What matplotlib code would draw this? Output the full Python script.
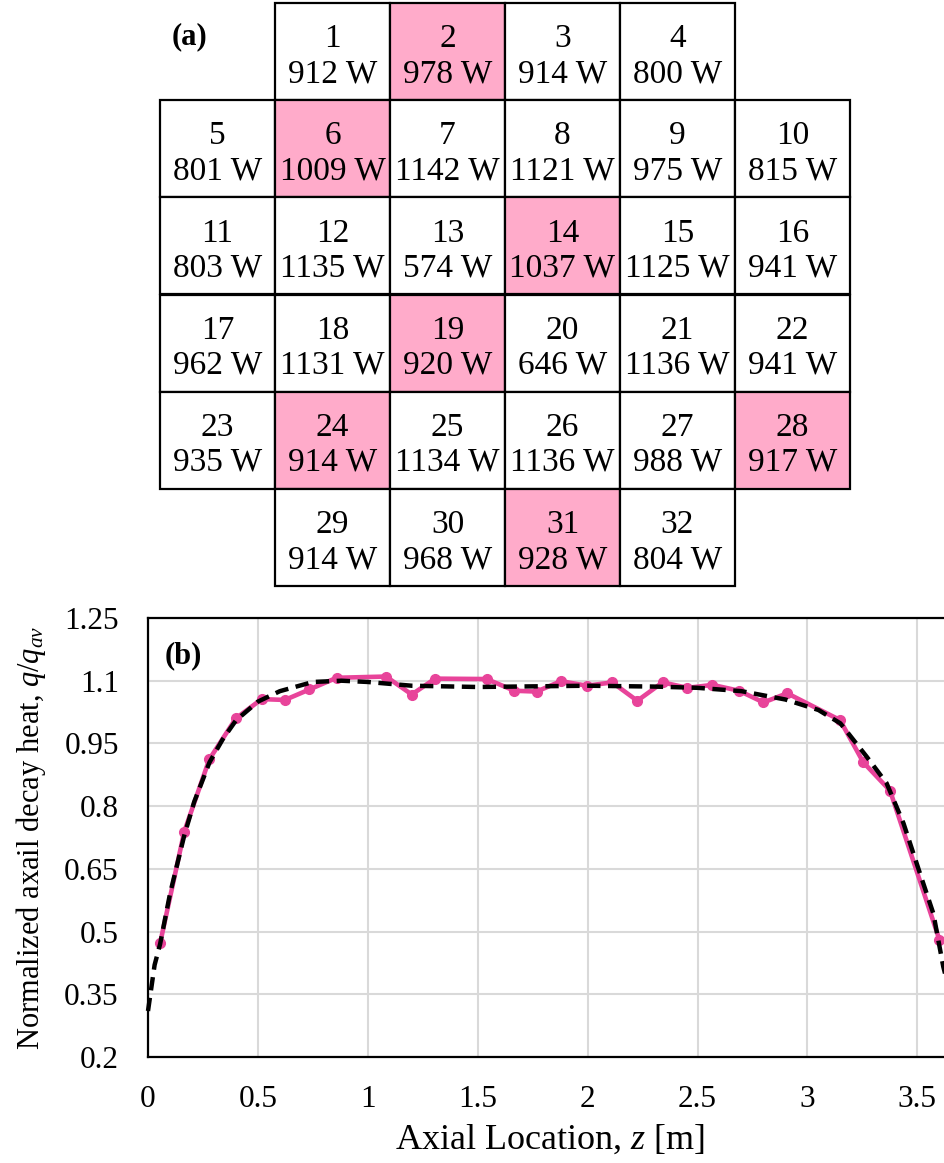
import matplotlib
matplotlib.use("Agg")
import matplotlib.pyplot as plt
from matplotlib.patches import Rectangle

plt.rcParams["font.family"] = ["Liberation Serif", "DejaVu Serif"]
plt.rcParams["mathtext.fontset"] = "custom"
plt.rcParams["mathtext.rm"] = "Liberation Serif"
plt.rcParams["mathtext.it"] = "Liberation Serif:italic"

# (a) assembly map: cell powers in W, row by row
cell_power = [912, 978, 914, 800,
              801, 1009, 1142, 1121, 975, 815,
              803, 1135, 574, 1037, 1125, 941,
              962, 1131, 920, 646, 1136, 941,
              935, 914, 1134, 1136, 988, 917,
              914, 968, 928, 804]
row_first_col = [1, 0, 0, 0, 0, 1]
row_count = [4, 6, 6, 6, 6, 4]
marked_cells = [2, 6, 14, 19, 24, 28, 31]

# (b) axial profile
z_meas = [0.055, 0.165, 0.279, 0.400, 0.517, 0.623, 0.734, 0.858, 1.083, 1.20,
          1.306, 1.541, 1.667, 1.768, 1.879, 1.996, 2.112, 2.226, 2.341, 2.454,
          2.568, 2.689, 2.80, 2.908, 3.148, 3.254, 3.376, 3.60]
q_meas = [0.472, 0.739, 0.912, 1.010, 1.056, 1.054, 1.079, 1.107, 1.110, 1.067,
          1.105, 1.104, 1.076, 1.074, 1.099, 1.088, 1.096, 1.052, 1.096, 1.083,
          1.090, 1.076, 1.048, 1.070, 1.006, 0.905, 0.837, 0.481]

z_fit = [0, 0.03, 0.055, 0.1, 0.165, 0.21, 0.28, 0.34, 0.4, 0.5, 0.6, 0.75, 0.88,
         1.0, 1.2, 1.5, 2.0, 2.3, 2.5, 2.7, 2.9, 3.05, 3.15, 3.27, 3.36, 3.437,
         3.512, 3.573, 3.618, 3.66]
q_fit = [0.31, 0.42, 0.47, 0.59, 0.73, 0.81, 0.905, 0.96, 1.005, 1.05, 1.075,
         1.097, 1.10, 1.097, 1.088, 1.085, 1.088, 1.086, 1.083, 1.075, 1.055,
         1.03, 0.998, 0.918, 0.855, 0.759, 0.639, 0.543, 0.416, 0.33]

W, H = 945, 1163
fig = plt.figure(figsize=(W / 100, H / 100), dpi=100)

# ---- (a) grid of cells
ax0 = fig.add_axes([160 / W, 1 - 586 / H, 690 / W, 583 / H])
ax0.set_xlim(0, 6)
ax0.set_ylim(6, 0)
ax0.axis("off")

n = 0
for r in range(6):
    for k in range(row_count[r]):
        c = row_first_col[r] + k
        cid = n + 1
        face = "#FFABCA" if cid in marked_cells else "white"
        ax0.add_patch(Rectangle((c, r), 1, 1, facecolor=face, edgecolor="black",
                                linewidth=1.6, clip_on=False))
        ax0.text(c + 0.5, r + 0.37, str(cid), ha="center", va="center", fontsize=24)
        ax0.text(c + 0.5, r + 0.73, f"{cell_power[n]} W", ha="center", va="center",
                 fontsize=24)
        n += 1

ax0.text(0.1, 0.35, "(a)", ha="left", va="center", fontsize=22, fontweight="bold")

# ---- (b) axial profile
x0, x1 = 148, 952.5
y0, y1 = 618, 1057
ax = fig.add_axes([x0 / W, 1 - y1 / H, (x1 - x0) / W, (y1 - y0) / H])
ax.set_xlim(0, 3.66)
ax.set_ylim(0.2, 1.25)
ax.set_xticks([0, 0.5, 1, 1.5, 2, 2.5, 3, 3.5])
ax.set_xticklabels(["0", "0.5", "1", "1.5", "2", "2.5", "3", "3.5"])
ax.set_yticks([0.2, 0.35, 0.5, 0.65, 0.8, 0.95, 1.1, 1.25])
ax.set_yticklabels(["0.2", "0.35", "0.5", "0.65", "0.8", "0.95", "1.1", "1.25"])
ax.grid(True, color="#D9D9D9", linewidth=1.5)
ax.set_axisbelow(True)
ax.tick_params(length=0, labelsize=22.5)
ax.tick_params(axis="x", pad=20)
ax.tick_params(axis="y", pad=21)
for s in ax.spines.values():
    s.set_linewidth(1.6)

ax.plot(z_meas, q_meas, color="#E8449A", linewidth=3.3, marker="o", markersize=7,
        zorder=3)
ax.plot(z_fit, q_fit, color="black", linewidth=3.2, linestyle=(0, (3, 1.7)),
        zorder=4, clip_on=False)

ax.text(0.021, 0.915, "(b)", transform=ax.transAxes, ha="left", va="center",
        fontsize=22, fontweight="bold")
ax.set_xlabel("Axial Location, $z$ [m]", fontsize=26, labelpad=7)
ax.set_ylabel("Normalized axail decay heat, $q/q_{av}$", fontsize=22, labelpad=12)

fig.savefig("out.png", dpi=100)
